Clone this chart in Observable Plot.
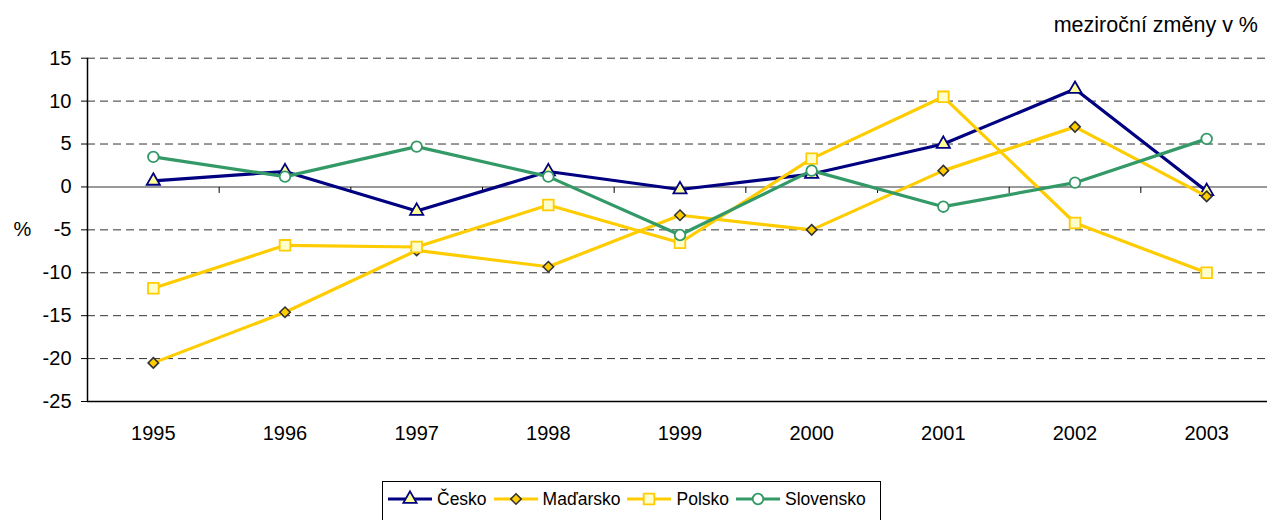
<!DOCTYPE html>
<html><head><meta charset="utf-8">
<script src="https://cdn.jsdelivr.net/npm/d3@7"></script>
<script src="https://cdn.jsdelivr.net/npm/@observablehq/plot@0.6"></script>
<style>
html,body{margin:0;padding:0;background:#fff;overflow:hidden;}
body{width:1267px;height:520px;font-family:"Liberation Sans",Arial,sans-serif;color:#000;}
#title{height:30px;padding-top:15px;padding-right:9px;text-align:right;font-size:21.5px;line-height:20px;}
#chart{height:425px;overflow:hidden;}
#chart svg{overflow:hidden;}
#legend{position:relative;height:50px;}
#legend .box{position:absolute;left:382px;top:11px;width:499px;height:45px;border:1px solid #000;box-sizing:border-box;display:flex;align-items:center;align-content:flex-start;padding-left:5px;padding-bottom:10px;}
#legend .item{display:flex;align-items:center;margin-right:7px;}
#legend .item span{margin-left:5px;font-size:17.5px;line-height:20px;}
</style>
</head><body>
<div id="title">meziroční změny v %</div>
<div id="chart"></div>
<div id="legend"><div class="box"></div></div>
<script>
const years = ["1995","1996","1997","1998","1999","2000","2001","2002","2003"];
const cesko     = [0.7, 1.8, -2.8, 1.8, -0.3, 1.5, 5.0, 11.4, -0.5];
const madarsko  = [-20.5, -14.6, -7.4, -9.3, -3.3, -5.0, 1.9, 7.0, -1.1];
const polsko    = [-11.8, -6.8, -7.0, -2.1, -6.5, 3.3, 10.5, -4.2, -10.0];
const slovensko = [3.5, 1.2, 4.7, 1.2, -5.6, 1.9, -2.3, 0.5, 5.6];
const yTicks = [-25, -20, -15, -10, -5, 0, 5, 10, 15];
const seriesNames = ["Česko", "Maďarsko", "Polsko", "Slovensko"];

const seriesStyle = [
  {values: cesko, line: "#000080", symbol: "triangle", r: 4.9, fill: "#FFFF99", stroke: "#000080", sw: 1.8},
  {values: madarsko, line: "#FFCC00", symbol: "diamond2", r: 4.7, fill: "#FFCC00", stroke: "#333333", sw: 1.6},
  {values: polsko, line: "#FFCC00", symbol: "square", r: 6.0, fill: "#FFFFCC", stroke: "#FFCC00", sw: 1.8},
  {values: slovensko, line: "#339966", symbol: "circle", r: 5.3, fill: "#FFFFFF", stroke: "#339966", sw: 1.8}
];

const xRange = [87, 1272];
const step = (xRange[1] - xRange[0]) / years.length;
const tickSymbol = {draw(ctx) { ctx.moveTo(0, 0); ctx.lineTo(0, 6); }};

const marks = [
  Plot.ruleY(yTicks.filter(t => t !== 0 && t !== -25), {stroke: "#333", strokeWidth: 1, strokeDasharray: "8,5"}),
  Plot.ruleY([0], {stroke: "#777", strokeWidth: 1.4}),
  Plot.dot(years.slice(1), {x: d => d, y: () => 0, dx: -step / 2, symbol: tickSymbol, stroke: "#000", strokeWidth: 1, r: 3}),
  Plot.ruleY([-25], {stroke: "#000", strokeWidth: 1.5}),
  Plot.ruleX([years[0]], {x: d => d, dx: -step / 2, y1: -25, y2: 15, stroke: "#000", strokeWidth: 1.5}),
  Plot.text(["%"], {frameAnchor: "left", y: () => -5, dx: -74, textAnchor: "start", fontSize: 20, fill: "#000"})
];
for (let s = 0; s < seriesStyle.length; s++) {
  const st = seriesStyle[s];
  const rows = years.map((y, i) => ({year: y, value: st.values[i], series: seriesNames[s]}));
  marks.push(Plot.lineY(rows, {x: "year", y: "value", stroke: st.line, strokeWidth: 3.2, strokeLinejoin: "miter"}));
  marks.push(Plot.dot(rows, {x: "year", y: "value", symbol: st.symbol, r: st.r, fill: st.fill, stroke: st.stroke, strokeWidth: st.sw}));
}

const chart = Plot.plot({
  width: 1267,
  height: 425,
  marginTop: 12.7,
  marginBottom: 69,
  marginLeft: 87,
  marginRight: 0,
  style: {fontSize: "20px", fontFamily: "'Liberation Sans', Arial, sans-serif", color: "#000", background: "#fff", overflow: "hidden"},
  x: {type: "band", domain: years, range: xRange, padding: 0, round: false, tickSize: 0, tickPadding: 24, label: null},
  y: {domain: [-25, 15], ticks: yTicks, tickSize: 6, tickPadding: 10, tickFormat: d => String(d), label: null},
  marks
});
document.getElementById("chart").appendChild(chart);

// legend
const box = document.querySelector("#legend .box");
const symPaths = {triangle: d3.symbolTriangle, diamond2: d3.symbolDiamond2, square: d3.symbolSquare, circle: d3.symbolCircle};
seriesStyle.forEach((st, s) => {
  const item = document.createElement("div");
  item.className = "item";
  const path = d3.symbol(symPaths[st.symbol], Math.PI * st.r * st.r)();
  item.innerHTML = `<svg width="44" height="20" viewBox="0 0 44 20"><line x1="0" x2="44" y1="10" y2="10" stroke="${st.line}" stroke-width="3"/><path d="${path}" transform="translate(22,10)" fill="${st.fill}" stroke="${st.stroke}" stroke-width="${st.sw}"/></svg><span>${seriesNames[s]}</span>`;
  box.appendChild(item);
});
</script>
</body></html>
